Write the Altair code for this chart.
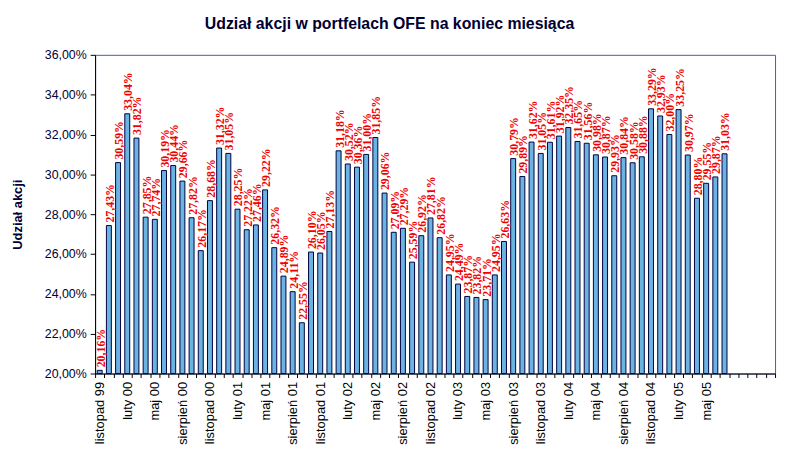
import altair as alt
import pandas as pd

# months on the category axis (the last five have no data)
months = [
    "listopad 99", "grudzień 99",
    "styczeń 00", "luty 00", "marzec 00", "kwiecień 00", "maj 00", "czerwiec 00",
    "lipiec 00", "sierpień 00", "wrzesień 00", "październik 00", "listopad 00", "grudzień 00",
    "styczeń 01", "luty 01", "marzec 01", "kwiecień 01", "maj 01", "czerwiec 01",
    "lipiec 01", "sierpień 01", "wrzesień 01", "październik 01", "listopad 01", "grudzień 01",
    "styczeń 02", "luty 02", "marzec 02", "kwiecień 02", "maj 02", "czerwiec 02",
    "lipiec 02", "sierpień 02", "wrzesień 02", "październik 02", "listopad 02", "grudzień 02",
    "styczeń 03", "luty 03", "marzec 03", "kwiecień 03", "maj 03", "czerwiec 03",
    "lipiec 03", "sierpień 03", "wrzesień 03", "październik 03", "listopad 03", "grudzień 03",
    "styczeń 04", "luty 04", "marzec 04", "kwiecień 04", "maj 04", "czerwiec 04",
    "lipiec 04", "sierpień 04", "wrzesień 04", "październik 04", "listopad 04", "grudzień 04",
    "styczeń 05", "luty 05", "marzec 05", "kwiecień 05", "maj 05", "czerwiec 05",
    "lipiec 05", "sierpień 05", "wrzesień 05", "październik 05", "listopad 05", "grudzień 05",
]

# share of equities, % (Nov 1999 - Jul 2005)
udzial = [
    20.16, 27.43,
    30.59, 33.04, 31.82, 27.85, 27.74, 30.19, 30.44, 29.66, 27.82, 26.17, 28.68, 31.32,
    31.05, 28.25, 27.22, 27.46, 29.22, 26.32, 24.89, 24.11, 22.55, 26.10, 26.05, 27.13,
    31.18, 30.52, 30.36, 31.00, 31.85, 29.06, 27.09, 27.29, 25.59, 26.92, 27.81, 26.82,
    24.95, 24.49, 23.87, 23.82, 23.71, 24.95, 26.63, 30.79, 29.89, 31.62, 31.05, 31.61,
    31.92, 32.35, 31.65, 31.56, 30.98, 30.87, 29.93, 30.84, 30.58, 30.88, 33.29, 32.93,
    32.00, 33.25, 30.97, 28.80, 29.55, 29.87, 31.03,
]

shown_labels = [
    "listopad 99", "luty 00", "maj 00", "sierpień 00", "listopad 00", "luty 01",
    "maj 01", "sierpień 01", "listopad 01", "luty 02", "maj 02", "sierpień 02",
    "listopad 02", "luty 03", "maj 03", "sierpień 03", "listopad 03", "luty 04",
    "maj 04", "sierpień 04", "listopad 04", "luty 05", "maj 05",
]

y_ticks = [20, 22, 24, 26, 28, 30, 32, 34, 36]

df = pd.DataFrame({"miesiac": months[:len(udzial)], "udzial": udzial})

label_list = "[" + ",".join(f"'{s}'" for s in shown_labels) + "]"

x = alt.X(
    "miesiac:N",
    sort=months,
    scale=alt.Scale(domain=months, paddingInner=0, paddingOuter=0),
    axis=alt.Axis(
        title=None,
        labelAngle=270,
        labelExpr=f"indexof({label_list}, datum.value) >= 0 ? datum.value : ''",
        labelFont="Liberation Sans",
        labelFontSize=13,
        labelColor="#000000",
        labelPadding=4,
        labelOverlap=False,
        tickBand="extent",
        tickSize=4,
        tickColor="#000000",
        domainColor="#000000",
    ),
)

y = alt.Y(
    "udzial:Q",
    scale=alt.Scale(domain=[20, 36], zero=False, nice=False),
    axis=alt.Axis(
        title="Udział akcji",
        titleFont="Liberation Sans",
        titleFontSize=13,
        titleFontWeight="bold",
        titleColor="#000033",
        titlePadding=20,
        values=y_ticks,
        labelExpr="replace(format(datum.value, '.2f'), '.', ',') + '%'",
        labelFont="Liberation Sans",
        labelFontSize=12.5,
        labelColor="#000033",
        labelPadding=4,
        tickSize=5,
        tickColor="#000000",
        domainColor="#000000",
        grid=False,
    ),
)

bars = alt.Chart(df).mark_bar(
    size=5, color="#6BB3E0", stroke="#000040", strokeWidth=1
).encode(x=x, y=y, y2=alt.datum(20))

labels = alt.Chart(df).transform_calculate(
    tekst="replace(format(datum.udzial, '.2f'), '.', ',') + '%'"
).mark_text(
    angle=270, align="left", baseline="middle", dx=3, dy=1,
    font="Liberation Serif", fontSize=12, fontWeight="bold", color="#F00000"
).encode(x=x, y=y, text="tekst:N")

chart = (bars + labels).properties(
    width=687,
    height=322,
    autosize=alt.AutoSizeParams(type="none"),
    padding={"left": 88, "top": 45, "right": 5, "bottom": 80},
    background="white",
    title=alt.TitleParams(
        "Udział akcji w portfelach OFE na koniec miesiąca",
        font="Liberation Sans",
        fontSize=16,
        fontWeight="bold",
        color="#000033",
        anchor="middle",
        dx=-46,
        offset=17,
    ),
).configure_view(stroke="#4A5AA8", strokeWidth=1)

chart.save("out.html", embed_options={"renderer": "svg", "actions": False})
